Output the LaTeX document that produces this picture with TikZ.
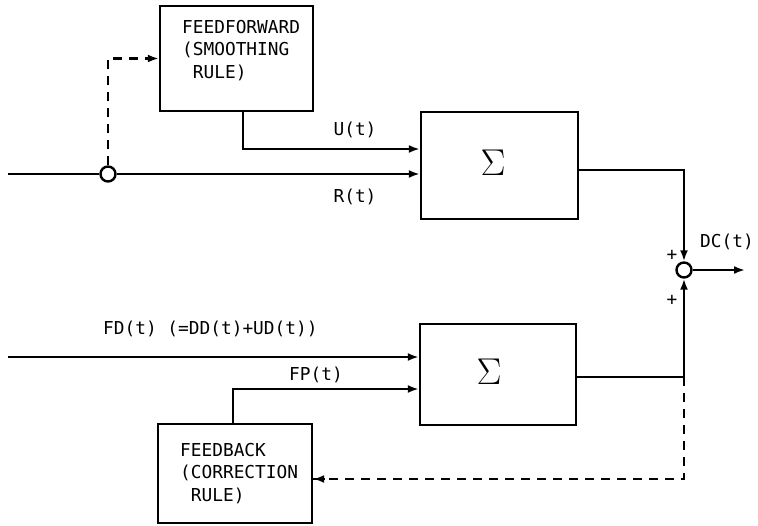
\documentclass[tikz,border=0pt]{standalone}
\usepackage{fontspec}
\setmonofont{DejaVu Sans Mono}
\usetikzlibrary{arrows.meta,calc}
\tikzset{
  blk/.style={draw,line width=2.4pt,inner sep=0pt},
  lbl/.style={inner sep=0pt,font=\ttfamily\fontsize{17.8}{22}\selectfont},
  boxtxt/.style={inner sep=0pt,align=left,anchor=north west,font=\ttfamily\fontsize{17.8}{22.3}\selectfont},
  sig/.style={inner sep=0pt,scale=1.5,font=\Huge},
  junc/.style={draw,circle,line width=2.4pt,minimum size=15pt,inner sep=0pt},
  wire/.style={line width=2.4pt},
  arr/.style={wire,-{Latex[length=11pt,width=8pt]}},
  dsh/.style={line width=2.4pt,dash pattern=on 9pt off 7pt}
}
\begin{document}
\begin{tikzpicture}[x=1pt,y=-1pt]
\useasboundingbox (0,0) rectangle (758,526);
% blocks
\node[blk,minimum width=153pt,minimum height=105pt] (ff) at (236.5,58.5) {};
\node[blk,minimum width=157pt,minimum height=107pt] (s1) at (499.5,165.5) {};
\node[blk,minimum width=156pt,minimum height=101pt] (s2) at (498,374.5) {};
\node[blk,minimum width=154pt,minimum height=99pt] (fb) at (235,473.5) {};
\node[boxtxt] (fftxt) at (182,20) {FEEDFORWARD\\(SMOOTHING\\\phantom{X}RULE)};
\node[boxtxt] (fbtxt) at (180,443) {FEEDBACK\\(CORRECTION\\\phantom{X}RULE)};
\node[sig] (sg1) at (493,163) {$\Sigma$};
\node[sig] (sg2) at (489,372) {$\Sigma$};
% junctions
\node[junc] (j1) at (108,174) {};
\node[junc] (j2) at (684,270) {};
% free ends
\coordinate (inR) at (8,174);
\coordinate (inFD) at (8,357);
\coordinate (outDC) at (745,270);
% top part
\draw[wire] (inR) -- (j1.west);
\draw[arr] (j1.east) -- (s1.west |- j1);
\draw[dsh] (j1.north) |- (ff.west);
\draw[arr] ($(ff.west)+(-12,0)$) -- (ff.west);
\draw[arr] ([xshift=6.5pt]ff.south) |- ([yshift=16.5pt]s1.west);
\coordinate (s1o) at ([yshift=-4.5pt]s1.east);
\draw[arr] (s1o) -| (j2.north);
\draw[arr] (j2.east) -- (outDC);
% bottom part
\draw[arr] (inFD) -- (s2.west |- inFD);
\draw[arr] ([xshift=-2pt]fb.north) |- ([yshift=-14.5pt]s2.west);
\coordinate (s2o) at ([yshift=-2.5pt]s2.east);
\draw[arr] (s2o) -| (j2.south);
\draw[dsh] (s2o -| j2) |- ([yshift=-5.5pt]fb.east);
\draw[arr] ($([yshift=-5.5pt]fb.east)+(12,0)$) -- ([yshift=-5.5pt]fb.east);
% labels
\node[lbl] (lu) at (355,130) {U(t)};
\node[lbl] (lr) at (355,197) {R(t)};
\node[lbl,anchor=west] (lfd) at (103,329) {FD(t) (=DD(t)+UD(t))};
\node[lbl] (lfp) at (316,375) {FP(t)};
\node[lbl] (ldc) at (727,242) {DC(t)};
\node[lbl] (p1) at (672,255) {+};
\node[lbl] (p2) at (672,300) {+};
\end{tikzpicture}
\end{document}
